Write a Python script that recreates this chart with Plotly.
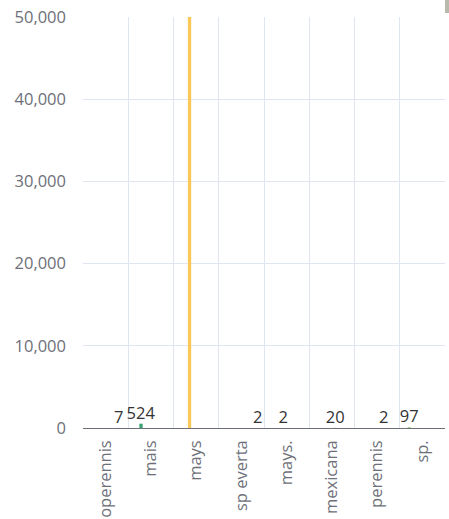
import plotly.graph_objects as go

# ---- data ----
categories = ["diploperennis", "mais", "mays", "sp everta", "mays.", "mexicana", "perennis", "sp."]
series_names = [f"Series {i + 1}" for i in range(11)]
bar_category = ["diploperennis", "mais", "mays", "sp everta", "mays.", "mexicana", "perennis", "sp."]
bar_series_index = [9, 2, 3, 10, 4, 6, 7, 1]
bar_value = [7, 524, 53000, 2, 2, 20, 2, 97]
y_tick_values = [0, 10000, 20000, 30000, 40000, 50000]

series_colors = ["#5470c6", "#91cc75", "#3ba272", "#fac858", "#ee6666", "#73c0de",
                 "#fc8452", "#9a60b4", "#ea7ccc", "#5470c6", "#91cc75"]

FONT = "Open Sans, Segoe UI, sans-serif"

fig = go.Figure()
for si, name in enumerate(series_names):
    ys = [None] * len(categories)
    txt = [""] * len(categories)
    for c, s, v in zip(bar_category, bar_series_index, bar_value):
        if s == si:
            ys[categories.index(c)] = v
            txt[categories.index(c)] = str(v)
    fig.add_trace(go.Bar(
        name=name,
        x=categories,
        y=ys,
        text=txt,
        marker=dict(color=series_colors[si], line=dict(width=8, color="rgba(0,0,0,0)")),
        textposition="outside",
        constraintext="none",
        cliponaxis=True,
        textfont=dict(family=FONT, size=16.5, color="#333333"),
        hoverinfo="x+y+name",
    ))

fig.update_layout(
    width=449, height=519,
    margin=dict(l=83, r=4, t=17, b=91, autoexpand=False),
    paper_bgcolor="white", plot_bgcolor="white",
    barmode="group", bargap=0.2, bargroupgap=0,
    showlegend=False,
    font=dict(family=FONT, size=17, color="#6e7079"),
    xaxis=dict(
        type="category",
        categoryorder="array", categoryarray=categories,
        tickson="boundaries",
        showgrid=True, gridcolor="#e0e6f1", gridwidth=1,
        ticks="", tickangle=-90,
        ticklabelstandoff=8,
        automargin=False,
        tickfont=dict(family=FONT, size=16.5, color="#6e7079"),
        showline=False, zeroline=False,
    ),
    yaxis=dict(
        range=[0, 50000],
        tickvals=y_tick_values,
        tickformat=",",
        showgrid=True, gridcolor="#e0e6f1", gridwidth=1,
        zeroline=True, zerolinecolor="#6e7079", zerolinewidth=1,
        ticks="", ticklabelstandoff=16,
        automargin=False,
        tickfont=dict(family=FONT, size=16.5, color="#6e7079"),
        showline=False,
    ),
    shapes=[dict(type="rect", xref="paper", yref="paper",
                 x0=1.0, x1=1.011, y0=1.0097, y1=1.0414,
                 fillcolor="#b9baae", line=dict(width=0), layer="above")],
)

fig.write_html(
    "out.html",
    config={"displayModeBar": False},
    post_script="document.body.style.margin='0';document.body.style.overflow='hidden';",
)
